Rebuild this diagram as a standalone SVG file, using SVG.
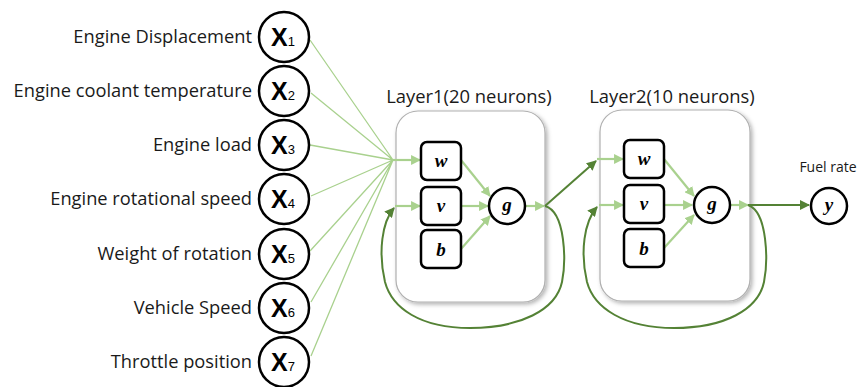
<svg xmlns="http://www.w3.org/2000/svg" width="857" height="387" viewBox="0 0 857 387">
<style>
.lbl{font-family:"Open Sans","Noto Sans",sans-serif;font-size:18.3px;fill:#1a1a1a;text-anchor:end}
.ttl{font-family:"Open Sans","Noto Sans",sans-serif;font-size:18.4px;fill:#1a1a1a;text-anchor:middle}
.xs{font-family:"Liberation Sans",Arial,sans-serif;font-weight:bold;font-size:25px;fill:#000}
.sub{font-weight:normal;font-size:13px}
.m{font-family:"Liberation Serif","DejaVu Serif",serif;font-weight:bold;font-style:italic;font-size:19px;fill:#000;text-anchor:middle}
.nd{fill:#fff;stroke:#000;stroke-width:2.5}
.lay{fill:#fff;stroke:#b0b0b0;stroke-width:1.2}
.lg{fill:none;stroke:#a9d18e;stroke-width:1.3}
.lga{fill:none;stroke:#a9d18e;stroke-width:2.2}
.dg{fill:none;stroke:#548235;stroke-width:2}
</style>
<defs>
<marker id="al" viewBox="0 0 10 10" refX="9" refY="5" markerWidth="4.5" markerHeight="4.5" orient="auto" markerUnits="strokeWidth"><path d="M0,0 L10,5 L0,10 z" fill="#a9d18e"/></marker>
<marker id="ad" viewBox="0 0 10 10" refX="9" refY="5" markerWidth="5" markerHeight="5" orient="auto" markerUnits="strokeWidth"><path d="M0,0 L10,5 L0,10 z" fill="#548235"/></marker>
<filter id="sh" x="-10%" y="-10%" width="125%" height="125%"><feDropShadow dx="2" dy="2" stdDeviation="2" flood-color="#000" flood-opacity="0.3"/></filter>
</defs>

<g id="layer1">
<rect class="lay" x="396" y="111" width="149" height="191" rx="22" filter="url(#sh)"/>
<text class="ttl" x="469" y="103">Layer1(20 neurons)</text>
</g>
<g id="layer2">
<rect class="lay" x="600" y="110" width="150" height="191" rx="22" filter="url(#sh)"/>
<text class="ttl" x="672" y="103">Layer2(10 neurons)</text>
</g>

<g id="connectors">
<path class="lg" d="M310,40 L393,160 M311,93 L393,160 M310,145 L393,160 M311,196 L393,160 M310,251 L393,160 M311,302 L393,160 M311,356 L393,160"/>
<path class="lga" d="M393,160 L420,160" marker-end="url(#al)"/>
<path class="lga" d="M395,206 L420,206" marker-end="url(#al)"/>
<path class="lga" d="M461,160 L490,196" marker-end="url(#al)"/>
<path class="lga" d="M461,206 L488,206" marker-end="url(#al)"/>
<path class="lga" d="M461,249 L490,216" marker-end="url(#al)"/>
<path class="lga" d="M525,206 L544,206" marker-end="url(#al)"/>
<path class="dg" d="M545,206 L596,161" marker-end="url(#ad)"/>
<path class="dg" d="M545,206 C566,212 566,262 562,282 C556,310 520,328 470,328 C420,328 392,308 385,282 C378,252 382,222 394,208" marker-end="url(#ad)"/>
<path class="lga" d="M597,159 L623,159" marker-end="url(#al)"/>
<path class="lga" d="M599,205 L623,205" marker-end="url(#al)"/>
<path class="lga" d="M664,159 L694,196" marker-end="url(#al)"/>
<path class="lga" d="M664,205 L692,205" marker-end="url(#al)"/>
<path class="lga" d="M664,248 L694,215" marker-end="url(#al)"/>
<path class="lga" d="M731,205 L748,205" marker-end="url(#al)"/>
<path class="dg" d="M748,205 L809,205" marker-end="url(#ad)"/>
<path class="dg" d="M748,205 C768,212 768,262 764,282 C758,310 724,328 674,328 C624,328 594,308 587,282 C580,252 584,222 597,207" marker-end="url(#ad)"/>
</g>

<g id="x1"><circle class="nd" cx="284" cy="37" r="25"/><text class="xs" x="271" y="46">X<tspan class="sub">1</tspan></text><text class="lbl" x="252" y="43">Engine Displacement</text></g>
<g id="x2"><circle class="nd" cx="284" cy="91" r="25"/><text class="xs" x="271" y="100">X<tspan class="sub">2</tspan></text><text class="lbl" x="252" y="97">Engine coolant temperature</text></g>
<g id="x3"><circle class="nd" cx="284" cy="145" r="25"/><text class="xs" x="271" y="154">X<tspan class="sub">3</tspan></text><text class="lbl" x="252" y="151">Engine load</text></g>
<g id="x4"><circle class="nd" cx="284" cy="199" r="25"/><text class="xs" x="271" y="208">X<tspan class="sub">4</tspan></text><text class="lbl" x="252" y="205">Engine rotational speed</text></g>
<g id="x5"><circle class="nd" cx="284" cy="254" r="25"/><text class="xs" x="271" y="263">X<tspan class="sub">5</tspan></text><text class="lbl" x="252" y="260">Weight of rotation</text></g>
<g id="x6"><circle class="nd" cx="284" cy="308" r="25"/><text class="xs" x="271" y="317">X<tspan class="sub">6</tspan></text><text class="lbl" x="252" y="314">Vehicle Speed</text></g>
<g id="x7"><circle class="nd" cx="284" cy="362" r="25"/><text class="xs" x="271" y="371">X<tspan class="sub">7</tspan></text><text class="lbl" x="252" y="368">Throttle position</text></g>

<g id="l1w"><rect class="nd" x="421" y="142" width="40" height="38" rx="6"/><text class="m" x="441" y="167">w</text></g>
<g id="l1v"><rect class="nd" x="421" y="187" width="40" height="38" rx="6"/><text class="m" x="441" y="212">v</text></g>
<g id="l1b"><rect class="nd" x="421" y="230" width="40" height="38" rx="6"/><text class="m" x="441" y="256">b</text></g>
<g id="l1g"><circle class="nd" cx="507" cy="206" r="18"/><text class="m" x="507" y="211">g</text></g>

<g id="l2w"><rect class="nd" x="624" y="140" width="40" height="38" rx="6"/><text class="m" x="644" y="165">w</text></g>
<g id="l2v"><rect class="nd" x="624" y="185" width="40" height="38" rx="6"/><text class="m" x="644" y="210">v</text></g>
<g id="l2b"><rect class="nd" x="624" y="229" width="40" height="38" rx="6"/><text class="m" x="644" y="255">b</text></g>
<g id="l2g"><circle class="nd" cx="712" cy="205" r="18"/><text class="m" x="712" y="210">g</text></g>

<g id="y"><circle class="nd" cx="829" cy="206" r="18"/><text class="m" x="829" y="211">y</text><text class="ttl" style="font-size:14px" x="828" y="172">Fuel rate</text></g>
</svg>
